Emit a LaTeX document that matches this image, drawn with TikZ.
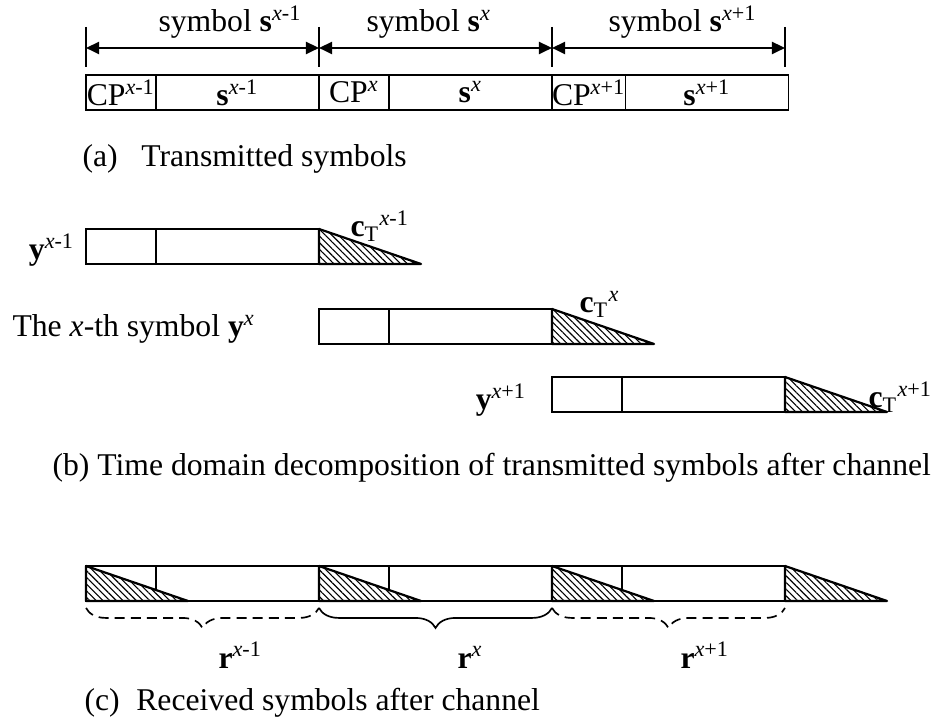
\documentclass[tikz,border=0pt]{standalone}
\usepackage{fontspec}
\setmainfont{Liberation Serif}
\usetikzlibrary{arrows.meta,positioning,patterns.meta,decorations.pathreplacing,calc}
\newcommand{\xm}{\textsuperscript{\textit{x}-1}}
\newcommand{\xp}{\textsuperscript{\textit{x}+1}}
\newcommand{\xx}{\textsuperscript{\textit{x}}}
\newcommand{\bolds}{\textbf{s}}
\newcommand{\boldy}{\textbf{y}}
\newcommand{\boldr}{\textbf{r}}
\newcommand{\cT}[1]{\textbf{c}\textsubscript{T}\textsuperscript{#1}}
\tikzset{
    cpcell/.style={draw, line width=0.5pt, minimum width=25.2pt, minimum height=12.6pt,
                   inner sep=0pt, outer sep=0pt, anchor=south west},
    scell/.style={cpcell, minimum width=58.68pt},
    hatch/.style={draw, line width=0.8pt, line join=round, preaction={fill=white},
                  pattern={Lines[angle=-45,distance=1.7pt,line width=0.4pt]}},
    span/.style={{Triangle[length=4.7pt,width=4.3pt]}-{Triangle[length=4.7pt,width=4.3pt]},
                 line width=0.9pt},
    rbrace/.style={decorate, decoration={brace, mirror, amplitude=7.2pt}, line width=0.6pt},
    dashbrace/.style={rbrace, dash pattern=on 3.6pt off 2.2pt},
    txt/.style={inner sep=0pt, anchor=base west},
    txtr/.style={inner sep=0pt, anchor=base east},
}

\begin{document}
\begin{tikzpicture}[x=0.36pt, y=-0.36pt, font=\fontsize{11.4}{13}\selectfont]
    \useasboundingbox (0,0) rectangle (942,718);

    % (a) transmitted symbols
    \coordinate (t0) at (86,48);
    \coordinate (t1) at (319,48);
    \coordinate (t2) at (552,48);
    \coordinate (t3) at (785,48);
    \foreach \t in {t0,t1,t2,t3}
        \draw[line width=0.4pt] (\t) ++(0,-21) -- ++(0,40);
    \draw[span] (t0) -- (t1);
    \draw[span] (t1) -- (t2);
    \draw[span] (t2) -- (t3);

    \node[txt] (symA) at (158,32) {symbol \bolds\xm};
    \node[txt] (symB) at (366,32) {symbol \bolds\xx};
    \node[txt] (symC) at (608,32) {symbol \bolds\xp};

    \node[cpcell]                  (cpA) at (86,110) {CP\xm};
    \node[scell, right=0pt of cpA] (sA)  {\bolds\xm};
    \node[cpcell, right=0pt of sA] (cpB) {CP\xx};
    \node[scell, right=0pt of cpB] (sB)  {\bolds\xx};
    \node[cpcell, right=0pt of sB] (cpC) {CP\xp};
    \node[scell, right=0pt of cpC] (sC)  {\bolds\xp};

    \node[txt] (capA) at (82,167) {(a)\hspace{8.5pt}Transmitted symbols};

    % (b) decomposition after channel
    \node[cpcell, thick]                  (yA1) at (86,264) {};
    \node[scell, thick, right=0pt of yA1] (yA2) {};
    \draw[hatch] (yA2.north east) -- (yA2.south east) -- ++(102,0) -- cycle;
    \node[txtr] (lyA) at (75,260) {\boldy\xm};
    \node[txt]  (cA)  at (350,237) {\cT{\textit{x}-1}};

    \node[cpcell, thick]                  (yB1) at (319,344) {};
    \node[scell, thick, right=0pt of yB1] (yB2) {};
    \draw[hatch] (yB2.north east) -- (yB2.south east) -- ++(102,0) -- cycle;
    \node[txt] (lyB) at (12,337) {The \textit{x}-th symbol \boldy\xx};
    \node[txt] (cB)  at (579,313) {\cT{\textit{x}}};

    \node[cpcell, thick]                  (yC1) at (552,412) {};
    \node[scell, thick, right=0pt of yC1] (yC2) {};
    \draw[hatch] (yC2.north east) -- (yC2.south east) -- ++(102,0) -- cycle;
    \node[txtr] (lyC) at (527,410) {\boldy\xp};
    \node[txt]  (cC)  at (868,408) {\cT{\textit{x}+1}};

    \node[txt] (capB) at (52,476)
        {(b) Time domain decomposition of transmitted symbols after channel};

    % (c) received symbols
    \node[cpcell, thick]                   (rA1) at (86,601) {};
    \node[scell, thick, right=0pt of rA1]  (rA2) {};
    \node[cpcell, thick, right=0pt of rA2] (rB1) {};
    \node[scell, thick, right=0pt of rB1]  (rB2) {};
    \node[cpcell, thick, right=0pt of rB2] (rC1) {};
    \node[scell, thick, right=0pt of rC1]  (rC2) {};
    \draw[hatch] (rA1.north west) -- (rA1.south west) -- ++(102,0) -- cycle;
    \draw[hatch] (rB1.north west) -- (rB1.south west) -- ++(102,0) -- cycle;
    \draw[hatch] (rC1.north west) -- (rC1.south west) -- ++(102,0) -- cycle;
    \draw[hatch] (rC2.north east) -- (rC2.south east) -- ++(102,0) -- cycle;

    \draw[dashbrace] ([yshift=-2.5pt]rA1.south west) -- ([yshift=-2.5pt]rA2.south east);
    \draw[rbrace]    ([yshift=-2.5pt]rB1.south west) -- ([yshift=-2.5pt]rB2.south east);
    \draw[dashbrace] ([yshift=-2.5pt]rC1.south west) -- ([yshift=-2.5pt]rC2.south east);

    \node[txt] (rxA) at (218,668) {\boldr\xm};
    \node[txt] (rxB) at (457,668) {\boldr\xx};
    \node[txt] (rxC) at (680,668) {\boldr\xp};

    \node[txt] (capC) at (84,710) {(c)\hspace{6pt}Received symbols after channel};
\end{tikzpicture}
\end{document}
